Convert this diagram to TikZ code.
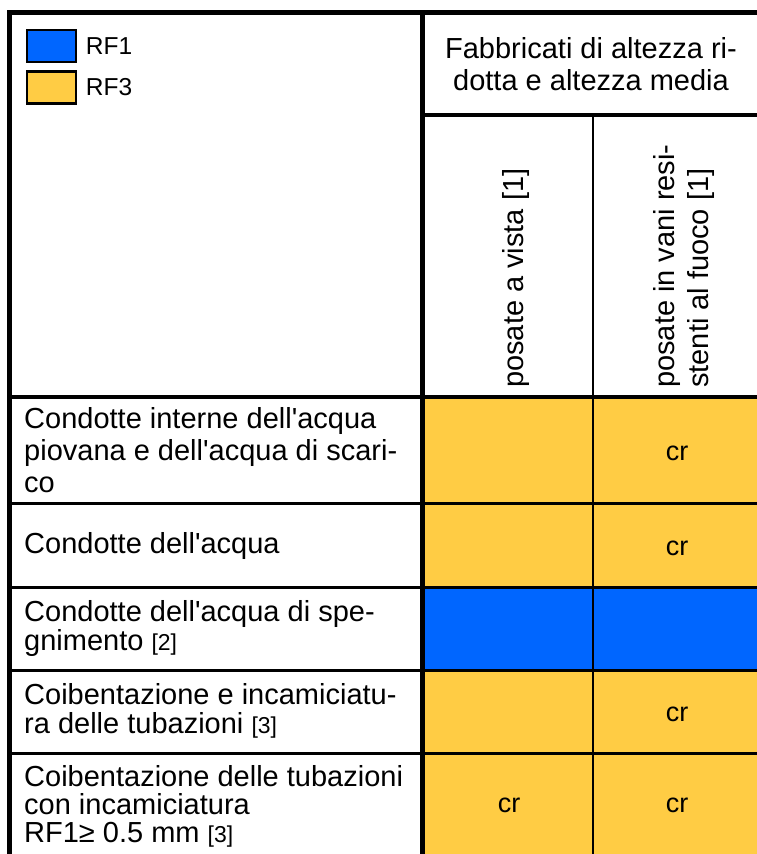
\documentclass[tikz,border=0pt]{standalone}
\usepackage{fontspec}
\setmainfont{Liberation Sans}
\usepackage{xcolor}
\usetikzlibrary{positioning}
\definecolor{rfblue}{HTML}{0066FF}
\definecolor{rfyellow}{HTML}{FFCC44}
\newcommand{\nota}[1]{{\fontsize{23}{23}\selectfont #1}}
\newcommand{\ap}{\textquotesingle}

\begin{document}
\begin{tikzpicture}[x=1pt, y=-1pt,
    txt/.style={font=\fontsize{29}{29}\selectfont, inner sep=0pt},
    voce/.style={txt, anchor=west, align=left},
    testa/.style={font=\fontsize{29}{34}\selectfont, inner sep=0pt, rotate=90, anchor=west, align=left},
    cella/.style={font=\fontsize{27}{27}\selectfont, inner sep=0pt},
    leg/.style={font=\fontsize{24.5}{24.5}\selectfont, inner sep=0pt},
    legbox/.style={draw, line width=2.5pt, minimum width=49pt, minimum height=32pt, inner sep=0pt}]
      \useasboundingbox (0,0) rectangle (757,854);
      \clip (0,0) rectangle (757,854);

      \fill[rfyellow] (422.5,397) rectangle (760,587);
      \fill[rfblue] (422.5,587) rectangle (760,670);
      \fill[rfyellow] (422.5,670) rectangle (760,860);

      \draw[line width=5pt] (9.5,860) -- (9.5,12.5) -- (760,12.5);
      \draw[line width=4.5pt] (422.5,12.5) -- (422.5,860);
      \draw[line width=4.5pt] (422.5,115) -- (760,115);
      \draw[line width=4.5pt] (9.5,397) -- (760,397);
      \draw[line width=2pt] (593,115) -- (593,860);
      \foreach \y in {503,587,670,753}
        \draw[line width=3pt] (9.5,\y) -- (760,\y);

      \node[legbox, fill=rfblue] (b1) at (51.5,46) {};
      \node[legbox, fill=rfyellow] (b3) at (51.5,87.5) {};
      \node[leg, right=8.5pt of b1] (l1) {RF1};
      \node[leg, right=8.5pt of b3] (l3) {RF3};

      \node[txt, align=center, font=\fontsize{29}{32}\selectfont] (fab) at (591,64) {Fabbricati di altezza ri-\\dotta e altezza media};
      \node[testa] (vista) at (516,388) {posate a vista [1]};
      \node[testa] (vani) at (684,388) {posate in vani resi-\\stenti al fuoco [1]};

      \node[voce, font=\fontsize{29}{32}\selectfont] (r1) at (24,450) {Condotte interne dell\ap acqua\\piovana e dell\ap acqua di scari-\\co};
      \node[voce] (r2) at (24,546) {Condotte dell\ap acqua};
      \node[voce] (r3) at (24,628.5) {Condotte dell\ap acqua di spe-\\gnimento \nota{[2]}};
      \node[voce] (r4) at (24,710.5) {Coibentazione e incamiciatu-\\ra delle tubazioni \nota{[3]}};
      \node[voce, font=\fontsize{29}{28}\selectfont] (r5) at (24,806) {Coibentazione delle tubazioni\\con incamiciatura\\RF1≥ 0.5 mm \nota{[3]}};

      \node[cella] (c12) at (677,453) {cr};
      \node[cella] (c22) at (677,548) {cr};
      \node[cella] (c42) at (677,714) {cr};
      \node[cella] (c51) at (509,805) {cr};
      \node[cella] (c52) at (677,805) {cr};
\end{tikzpicture}
\end{document}
